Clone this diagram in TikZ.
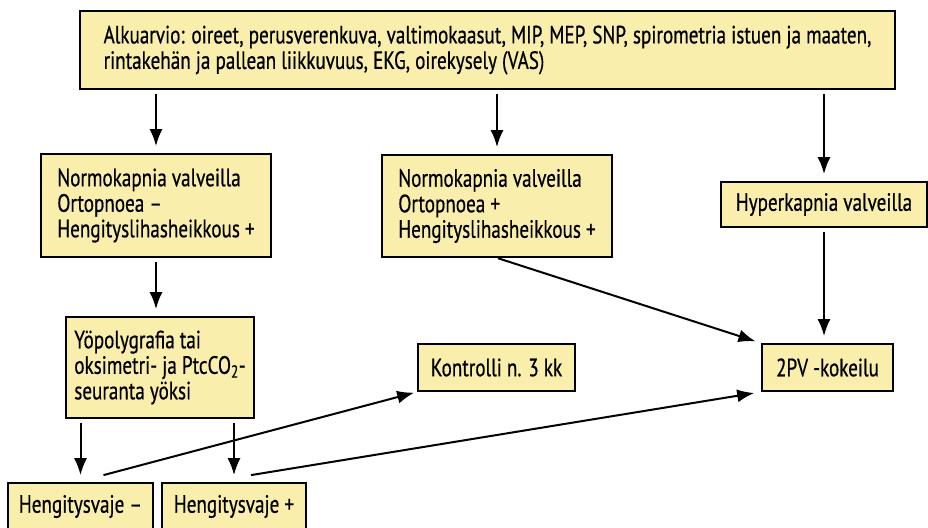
\documentclass[tikz,border=0pt]{standalone}
\usepackage{fontspec}
\setmainfont[FakeStretch=0.765,FakeBold=0.6]{PT Sans}
\usetikzlibrary{arrows.meta}
\definecolor{boxfill}{RGB}{250,238,172}

\begin{document}
\begin{tikzpicture}[x=1pt,y=-1pt,
    box/.style={draw=black,line width=1.8pt,fill=boxfill,align=left,inner sep=0pt,
      font=\fontsize{25}{25.5}\selectfont},
    flow/.style={-{Latex[length=17pt,width=13pt]},line width=2pt,
      shorten <=4pt,shorten >=7pt}]
  \useasboundingbox (0,0) rectangle (928,527);

  % boxes
  \node[box,minimum width=815pt,minimum height=78pt] (alku) at (487.5,50)
    {Alkuarvio: oireet, perusverenkuva, valtimokaasut, MIP, MEP, SNP, spirometria istuen ja maaten,\\
     rintakehän ja pallean liikkuvuus, EKG, oirekysely (VAS)};
  \node[box,minimum width=230pt,minimum height=103pt] (normoA) at (156,205.5)
    {Normokapnia valveilla\\Ortopnoea --\\Hengityslihasheikkous +};
  \node[box,minimum width=230pt,minimum height=102pt] (normoB) at (497,206)
    {Normokapnia valveilla\\Ortopnoea +\\Hengityslihasheikkous +};
  \node[box,minimum width=206pt,minimum height=45pt] (hyper) at (824,204.5)
    {Hyperkapnia valveilla};
  \node[box,minimum width=188pt,minimum height=101pt] (yopoly) at (160,367.5)
    {Yöpolygrafia tai\\oksimetri- ja PtcCO\textsubscript{2}-\\seuranta yöksi};
  \node[box,minimum width=157pt,minimum height=47pt] (kontr) at (496.5,367.5)
    {Kontrolli n. 3 kk};
  \node[box,minimum width=131pt,minimum height=47pt] (kokeilu) at (827.5,367.5)
    {2PV -kokeilu};
  \node[box,minimum width=145pt,minimum height=47pt] (vajeM) at (80.5,506.5)
    {Hengitysvaje --};
  \node[box,minimum width=144pt,minimum height=47pt] (vajeP) at (234,506.5)
    {Hengitysvaje +};

  % arrows
  \draw[flow] (alku.south -| normoA.north) -- (normoA.north);
  \draw[flow] (alku.south -| normoB.north) -- (normoB.north);
  \draw[flow] (alku.south -| hyper.north) -- (hyper.north);
  \draw[flow] (normoA.south) -- (normoA.south |- yopoly.north);
  \draw[flow,shorten <=1pt,shorten >=6pt] (normoB.south) -- (kokeilu.north west);
  \draw[flow] (hyper.south) -- (hyper.south |- kokeilu.north);
  \draw[flow] (yopoly.south -| vajeM.north) -- (vajeM.north);
  \draw[flow] (yopoly.south -| vajeP.north) -- (vajeP.north);
  \draw[flow,shorten <=0pt,shorten >=3pt] ([xshift=23pt,yshift=7pt]vajeM.north) -- (kontr.south west);
  \draw[flow,shorten <=0pt,shorten >=7pt] ([xshift=17pt,yshift=7pt]vajeP.north) -- (kokeilu.south west);
\end{tikzpicture}
\end{document}
